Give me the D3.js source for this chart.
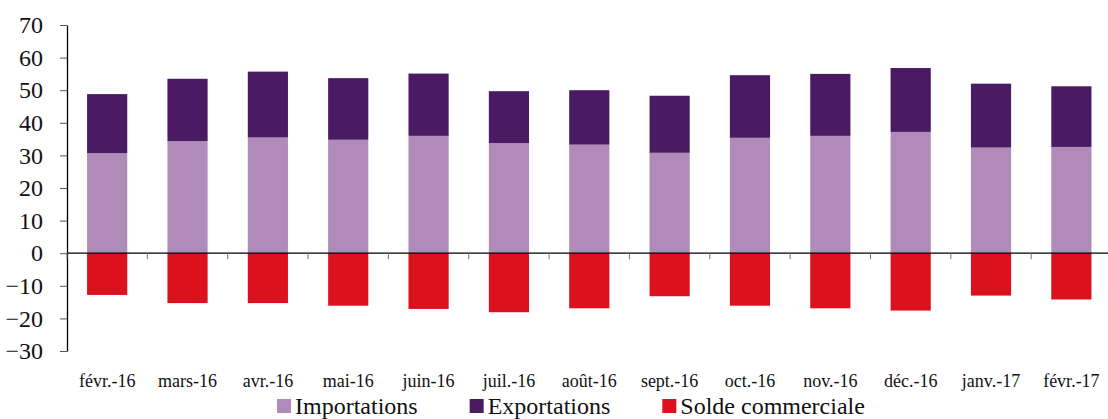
<!DOCTYPE html>
<html>
<head>
<meta charset="utf-8">
<script src="https://cdn.jsdelivr.net/npm/d3@7"></script>
<style>
  html, body { margin: 0; padding: 0; background: #fff; }
  svg { display: block; }
  svg text { font-family: "Liberation Serif", "DejaVu Serif", serif !important; }
</style>
</head>
<body>
<div id="chart"></div>
<script>
// Monthly values
const months = ["févr.-16", "mars-16", "avr.-16", "mai-16", "juin-16", "juil.-16", "août-16",
                "sept.-16", "oct.-16", "nov.-16", "déc.-16", "janv.-17", "févr.-17"];
const importations = [30.7, 34.4, 35.5, 34.8, 36.0, 33.8, 33.3, 30.8, 35.4, 36.0, 37.2, 32.4, 32.6];
const exportations = [18.1, 19.1, 20.2, 18.9, 19.1, 15.9, 16.7, 17.5, 19.2, 19.0, 19.6, 19.6, 18.6];
const solde        = [-12.8, -15.3, -15.3, -16.1, -17.1, -18.1, -16.9, -13.2, -16.1, -16.9, -17.6, -13.0, -14.2];
const yTicks = [-30, -20, -10, 0, 10, 20, 30, 40, 50, 60, 70];

const COLORS = {
  imp: "#b08ab8",
  exp: "#4a1a62",
  sol: "#dc111e"
};

const width = 1108, height = 419;
const m = { top: 25, left: 67, bottom: 68 };

const svg = d3.select("#chart").append("svg")
  .attr("width", width)
  .attr("height", height);

const x = d3.scaleBand()
  .domain(months)
  .range([m.left, m.left + 13 * 80.35])
  .paddingInner(0.5)
  .paddingOuter(0.25);

const y = d3.scaleLinear()
  .domain([-30, 70])
  .range([height - m.bottom, m.top]);

const data = months.map((d, i) => ({
  month: d, imp: importations[i], exp: exportations[i], sol: solde[i]
}));

// bars
const bars = svg.append("g");
bars.selectAll("rect.imp").data(data).enter().append("rect")
  .attr("class", "imp")
  .attr("x", d => x(d.month))
  .attr("width", x.bandwidth())
  .attr("y", d => y(d.imp))
  .attr("height", d => y(0) - y(d.imp))
  .attr("fill", COLORS.imp);

bars.selectAll("rect.exp").data(data).enter().append("rect")
  .attr("class", "exp")
  .attr("x", d => x(d.month))
  .attr("width", x.bandwidth())
  .attr("y", d => y(d.imp + d.exp))
  .attr("height", d => y(d.imp) - y(d.imp + d.exp))
  .attr("fill", COLORS.exp);

bars.selectAll("rect.sol").data(data).enter().append("rect")
  .attr("class", "sol")
  .attr("x", d => x(d.month))
  .attr("width", x.bandwidth())
  .attr("y", y(0))
  .attr("height", d => y(d.sol) - y(0))
  .attr("fill", COLORS.sol);

// y axis
const yAxis = svg.append("g")
  .attr("transform", `translate(${m.left},0)`)
  .call(d3.axisLeft(y).tickValues(yTicks).tickSize(7).tickPadding(17).tickSizeOuter(0));
yAxis.select(".domain").attr("stroke", "#000").attr("stroke-width", 1.3);
yAxis.selectAll(".tick line").attr("stroke", "#555");
yAxis.selectAll("text")
  .attr("font-size", 24)
  .attr("fill", "#111");

// zero line + category separators
const step = x.step();
const bounds = d3.range(months.length + 1).map(i => m.left + i * step);
svg.append("line")
  .attr("x1", m.left).attr("x2", width)
  .attr("y1", y(0)).attr("y2", y(0))
  .attr("stroke", "#000").attr("stroke-width", 1.3);
svg.append("g").selectAll("line").data(bounds).enter().append("line")
  .attr("x1", d => d).attr("x2", d => d)
  .attr("y1", y(0)).attr("y2", y(0) + 6)
  .attr("stroke", "#777");

// category labels
const xAxis = svg.append("g")
  .attr("transform", "translate(0,374)")
  .call(d3.axisBottom(x).tickSize(0).tickPadding(0));
xAxis.select(".domain").remove();
xAxis.selectAll("text")
  .attr("font-size", 18)
  .attr("fill", "#111");

// legend
const legendItems = [
  { label: "Importations", color: COLORS.imp },
  { label: "Exportations", color: COLORS.exp },
  { label: "Solde commerciale", color: COLORS.sol }
];
const legend = svg.append("g");
let lx = 277;
legendItems.forEach(it => {
  legend.append("rect")
    .attr("x", lx).attr("y", 399)
    .attr("width", 14).attr("height", 14)
    .attr("fill", it.color);
  const t = legend.append("text")
    .attr("x", lx + 18).attr("y", 414)
    .attr("font-size", 24)
    .attr("fill", "#111")
    .text(it.label);
  lx += 18 + t.node().getComputedTextLength() + 52;
});
</script>
</body>
</html>
